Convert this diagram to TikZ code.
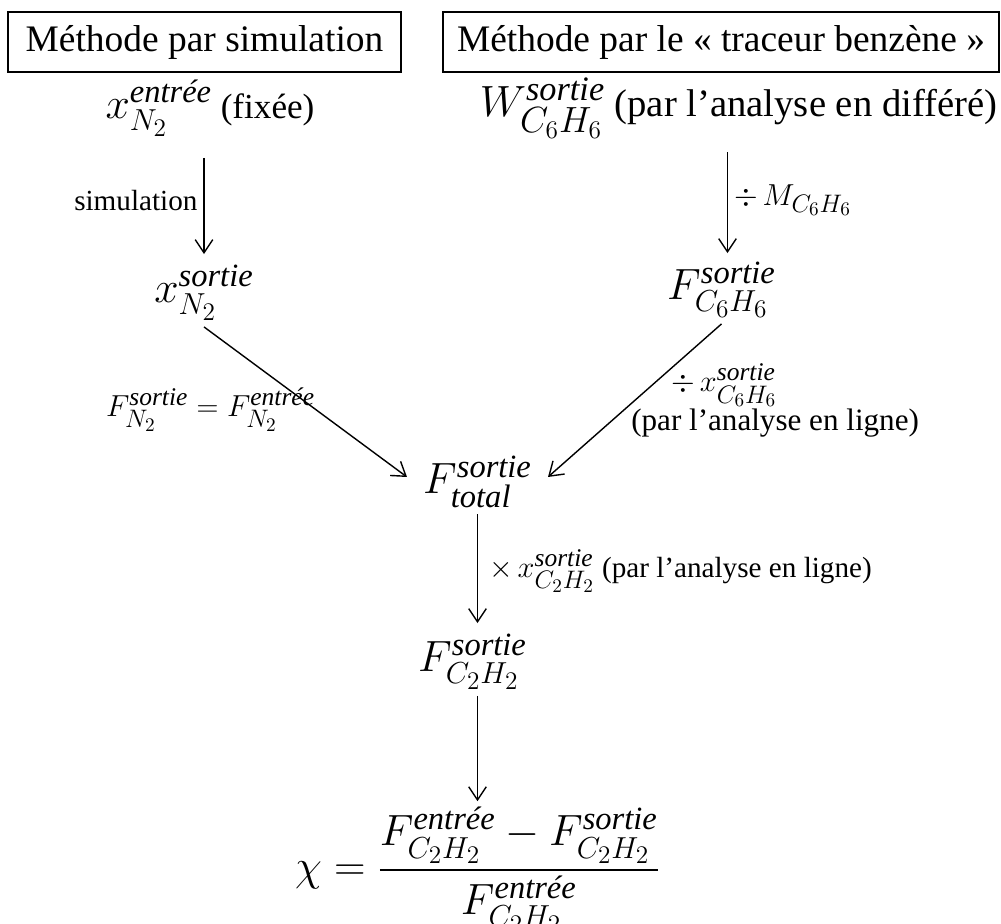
\documentclass[tikz,border=0pt]{standalone}
\usepackage{amsmath}
\usepackage{fontspec}
\setmainfont{Liberation Serif}
\usepackage{tikz}
\usetikzlibrary{arrows.meta}

\DeclareMathSizes{19}{24}{18.5}{14}
\DeclareMathSizes{20}{24}{18.5}{14}
\DeclareMathSizes{22}{25}{19.5}{14}
\DeclareMathSizes{16.6}{19}{14.5}{11}
\DeclareMathSizes{17.7}{19}{14.5}{11}
\newcommand{\sortie}{\textit{sortie}}
\newcommand{\entree}{\textit{entrée}}

\begin{document}
\begin{tikzpicture}[
  titlebox/.style={draw, line width=0.7pt, minimum height=1.2cm, inner xsep=8pt, font=\fontsize{21.3}{25}\selectfont},
  qty/.style={font=\fontsize{19}{23}\selectfont},
  lbl/.style={font=\fontsize{16.6}{19}\selectfont},
  flow/.style={-{Straight Barb[length=7.5pt,width=10pt]}, line width=0.8pt}]
  \useasboundingbox (0,0) rectangle (20.02,-18.48);

  \node[titlebox, minimum width=7.86cm] (sim) at (4.09,-0.84) {Méthode par simulation};
  \node[titlebox, minimum width=11.1cm] (benz) at (14.42,-0.84) {Méthode par le « traceur benzène »};

  \node[qty, font=\fontsize{20}{24}\selectfont] (xin) at (4.20,-2.16) {$x_{N_2}^{\entree}$ (fixée)};
  \node[qty, font=\fontsize{22}{26}\selectfont] (win) at (14.77,-2.16) {$W_{C_6H_6}^{\sortie}$ (par l’analyse en différé)};
  \node[qty] (xout) at (4.08,-5.86) {$x_{N_2}^{\sortie}$};
  \node[qty] (fc6) at (14.43,-5.80) {$F_{C_6H_6}^{\sortie}$};
  \node[qty] (ftot) at (9.55,-9.64) {$F_{\textit{total}}^{\sortie}$};
  \node[qty] (fc2) at (9.45,-13.24) {$F_{C_2H_2}^{\sortie}$};
  \node[qty] (chi) at (9.55,-17.40) {$\displaystyle \chi=\frac{F_{C_2H_2}^{\entree}-F_{C_2H_2}^{\sortie}}{F_{C_2H_2}^{\entree}}$};

  \draw[flow, shorten <=0.31cm, shorten >=0.1cm] (xin.south -| xout) -- (xout)
    node[midway, left, lbl] {simulation};
  \draw[flow, shorten <=0.16cm, shorten >=0.06cm] ([xshift=0.12cm]win.south -| fc6) -- ([xshift=0.12cm]fc6.north)
    node[midway, right, lbl] {$\div\, M_{C_6H_6}$};
  \draw[flow] (xout.south) -- ([shift={(-0.2,0.1)}]ftot.west)
    node[pos=0.55, anchor=east, inner sep=0pt, lbl] {$F_{N_2}^{\sortie}=F_{N_2}^{\entree}$};
  \draw[flow] (fc6.south) -- ([shift={(0.2,0.1)}]ftot.east)
    node[pos=0.5, anchor=west, xshift=-0.2cm, align=left, lbl, font=\fontsize{17.7}{20}\selectfont] {\hspace*{0.8cm}$\div\, x_{C_6H_6}^{\sortie}$\\(par l’analyse en ligne)};
  \draw[flow, shorten >=0.1cm] (ftot.south) -- (ftot.south |- fc2.north)
    node[midway, right, xshift=0.1cm, lbl] {$\times\, x_{C_2H_2}^{\sortie}$ (par l’analyse en ligne)};
  \draw[flow] (fc2.south -| chi) -- (chi);
\end{tikzpicture}
\end{document}
